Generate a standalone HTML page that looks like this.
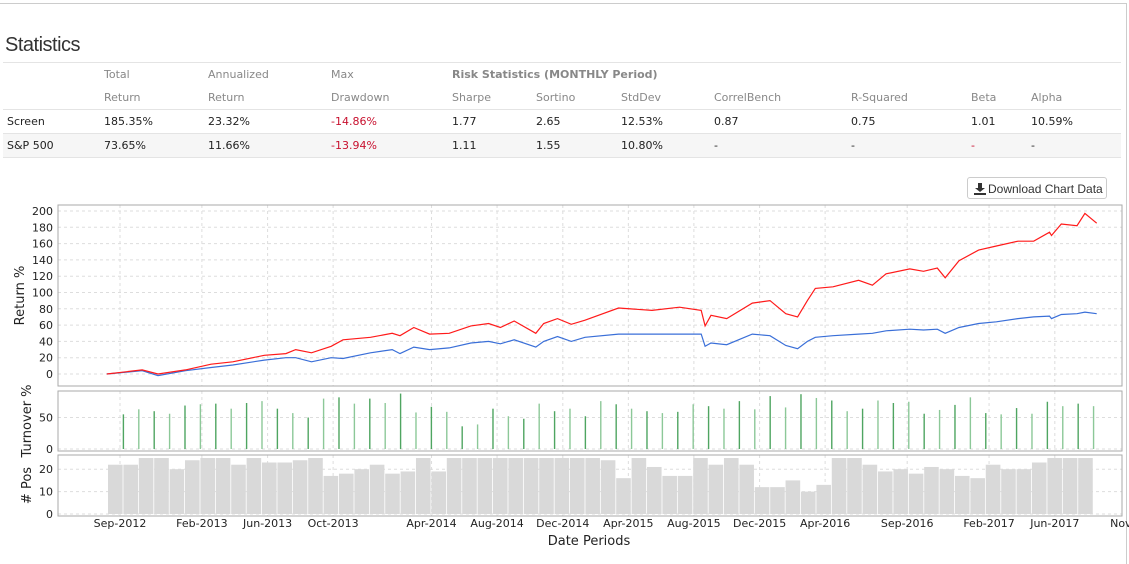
<!DOCTYPE html>
<html><head><meta charset="utf-8">
<style>
body{margin:0;width:1129px;height:557px;overflow:hidden;background:#fff;font-family:"DejaVu Sans","Liberation Sans",sans-serif;position:relative}
#panel{position:absolute;left:0;top:3px;width:1126px;height:560px;border-top:1px solid #ccc;border-right:1px solid #ccc}
h2{position:absolute;left:5px;top:34px;margin:0;font:20px "Liberation Sans",sans-serif;color:#333;letter-spacing:-0.5px}
table{position:absolute;left:3px;top:62px;width:1118px;border-collapse:collapse;font-size:11px;color:#222}
td{padding:0 0 0 4px;height:23px;white-space:nowrap}
tr.h td{color:#888}
tr.b td{border-top:1px solid #e4e4e4}
tr.last td{border-bottom:1px solid #e4e4e4;background:#f6f6f6}
.neg{color:#c8102e}
#dl{position:absolute;left:967px;top:177px;width:140px;height:22px;border:1px solid #ccc;border-radius:3px;font:12px "Liberation Sans",sans-serif;color:#333;line-height:22px;box-sizing:border-box;padding-left:20px}
svg{position:absolute;left:0;top:0}
</style></head><body>
<div id="panel"></div>
<h2>Statistics</h2>
<table>
<colgroup><col style="width:97px"><col style="width:104px"><col style="width:123px"><col style="width:121px"><col style="width:84px"><col style="width:85px"><col style="width:93px"><col style="width:137px"><col style="width:120px"><col style="width:60px"><col></colgroup>
<tr class="h b"><td></td><td>Total</td><td>Annualized</td><td>Max</td><td colspan="3" style="font-weight:bold">Risk Statistics (MONTHLY Period)</td><td></td><td></td><td></td><td></td></tr>
<tr class="h"><td></td><td>Return</td><td>Return</td><td>Drawdown</td><td>Sharpe</td><td>Sortino</td><td>StdDev</td><td>CorrelBench</td><td>R-Squared</td><td>Beta</td><td>Alpha</td></tr>
<tr class="b"><td>Screen</td><td>185.35%</td><td>23.32%</td><td class="neg">-14.86%</td><td>1.77</td><td>2.65</td><td>12.53%</td><td>0.87</td><td>0.75</td><td>1.01</td><td>10.59%</td></tr>
<tr class="b last"><td>S&amp;P 500</td><td>73.65%</td><td>11.66%</td><td class="neg">-13.94%</td><td>1.11</td><td>1.55</td><td>10.80%</td><td>-</td><td>-</td><td class="neg">-</td><td>-</td></tr>
</table>
<div id="dl"><svg width="12" height="12" style="left:6px;top:5px" viewBox="0 0 12 12"><path d="M4 0h4v5h3L6 9 1 5h3z M0 10h12v2H0z" fill="#333"/></svg>Download Chart Data</div>
<svg id="chart" width="1129" height="557"></svg>
<script>
const retT=[2012.60,2012.78,2012.86,2013.00,2013.13,2013.24,2013.40,2013.51,2013.56,2013.64,2013.74,2013.80,2013.94,2014.05,2014.09,2014.16,2014.24,2014.34,2014.45,2014.54,2014.60,2014.67,2014.78,2014.82,2014.89,2014.96,2015.03,2015.20,2015.37,2015.51,2015.62,2015.64,2015.67,2015.75,2015.88,2015.97,2016.05,2016.11,2016.16,2016.20,2016.29,2016.42,2016.49,2016.56,2016.68,2016.75,2016.82,2016.86,2016.93,2017.03,2017.12,2017.23,2017.31,2017.39,2017.40,2017.45,2017.53,2017.57,2017.63];
const screenRet=[0,5,0,5,12,15,23,25,30,26,34,42,45,50,47,57,49,50,59,62,57,65,50,62,68,61,66,81,78,82,78,59,72,68,87,90,74,70,90,105,107,115,109,123,129,126,130,118,139,152,157,163,163,174,170,184,182,197,185];
const spRet=[0,4,-2,4,8,11,17,20,20,15,20,19,26,30,25,33,30,32,38,40,37,42,33,40,46,40,45,49,49,49,49,34,38,36,49,47,35,31,40,45,47,49,50,53,55,54,55,50,57,62,64,68,70,71,68,73,74,76,74];
const turnover=[55,63,60,56,69,71,72,64,73,76,64,57,50,80,82,72,80,73,88,58,67,59,36,39,64,52,48,72,60,64,52,76,71,64,60,57,59,71,68,64,76,63,84,66,87,81,77,60,64,77,73,75,56,62,70,82,57,55,65,56,75,68,72,68];
const positions=[22,22,25,25,20,24,25,25,22,25,23,23,24,25,17,18,20,22,18,19,25,19,25,25,25,25,25,25,25,25,25,25,24,16,25,21,17,17,25,22,25,22,12,12,15,10,13,25,25,22,19,20,18,21,20,17,16,22,20,20,23,25,25,25];
const tickLabels=["Sep-2012","Feb-2013","Jun-2013","Oct-2013","Apr-2014","Aug-2014","Dec-2014","Apr-2015","Aug-2015","Dec-2015","Apr-2016","Sep-2016","Feb-2017","Jun-2017","Nov-2017"];
const tickT=[2012.667,2013.083,2013.417,2013.75,2014.25,2014.583,2014.917,2015.25,2015.583,2015.917,2016.25,2016.667,2017.083,2017.417,2017.833];
const retTicks=[0,20,40,60,80,100,120,140,160,180,200];
const turnTicks=[0,50];
const posTicks=[0,10,20];
const posStart=2012.606, period=0.07825;

const svg=document.getElementById('chart');
const NS='http://www.w3.org/2000/svg';
function mk(tag,attrs,parent){const e=document.createElementNS(NS,tag);for(const k in attrs)e.setAttribute(k,attrs[k]);(parent||svg).appendChild(e);return e;}
const L=58,R=1122;
const x=t=>120+(t-2012.667)*196.8;
const yRet=v=>374-v*0.815;
const yTurn=v=>449-v*0.63;
const yPos=v=>514-v*2.24;
const panels=[{top:205,bot:386,y:yRet,ticks:retTicks,title:'Return %',tx:24,name:'return'},{top:391,bot:451,y:yTurn,ticks:turnTicks,title:'Turnover %',tx:31,name:'turnover'},{top:455,bot:516,y:yPos,ticks:posTicks,title:'# Pos',tx:31,name:'positions'}];
const g0=mk('g',{});
panels.forEach(p=>{
  tickT.forEach(t=>{const l=mk('line',{x1:x(t),x2:x(t),y1:p.top,y2:p.bot,stroke:'#ddd','stroke-dasharray':'3,3'},g0);
  
  });
  p.ticks.forEach(v=>{const l=mk('line',{x1:L,x2:R,y1:p.y(v),y2:p.y(v),stroke:'#ddd','stroke-dasharray':'3,3'},g0);
  
  
  const tx=mk('text',{x:L-5,y:p.y(v)+4,'text-anchor':'end','font-size':'11',fill:'#222'},g0);tx.textContent=v;
  
  });
  const ti=mk('text',{x:p.tx,y:(p.top+p.bot)/2,'text-anchor':'middle','font-size':'13',fill:'#222',transform:`rotate(-90 ${p.tx} ${(p.top+p.bot)/2})`},g0);ti.textContent=p.title;
  
  
});
// positions
positions.forEach((v,i)=>{const x0=x(posStart+i*period),x1=x(posStart+(i+1)*period);
  const r=mk('rect',{x:x0,y:yPos(v),width:x1-x0-0.8,height:yPos(0)-yPos(v),fill:'#d9d9d9'});
  
  });
// turnover
turnover.forEach((v,i)=>{const xx=x(posStart+(i+1)*period);
  const l=mk('line',{x1:xx,x2:xx,y1:yTurn(0),y2:yTurn(v),stroke:i%2?'#8cc898':'#4fa561','stroke-width':1.4});
  
  });
// lines
function line(vals,col,name){const d=vals.map((v,i)=>(i?'L':'M')+x(retT[i]).toFixed(1)+','+yRet(v).toFixed(1)).join('');
  const p=mk('path',{d:d,fill:'none',stroke:col,'stroke-width':1.2});
  
  }
line(spRet,'#3a6fd8','sp500-line');
line(screenRet,'#ff1a1a','screen-line');
panels.forEach(p=>{const b=mk('rect',{x:L,y:p.top,width:R-L,height:p.bot-p.top,fill:'none',stroke:'#aaa'});
  
  });
tickT.forEach((t,i)=>{const tx=mk('text',{x:x(t),y:527,'text-anchor':'middle','font-size':'11',fill:'#222'});tx.textContent=tickLabels[i];
  
  });
const xt=mk('text',{x:589,y:545,'text-anchor':'middle','font-size':'13',fill:'#222'});xt.textContent='Date Periods';


</script>
</body></html>
